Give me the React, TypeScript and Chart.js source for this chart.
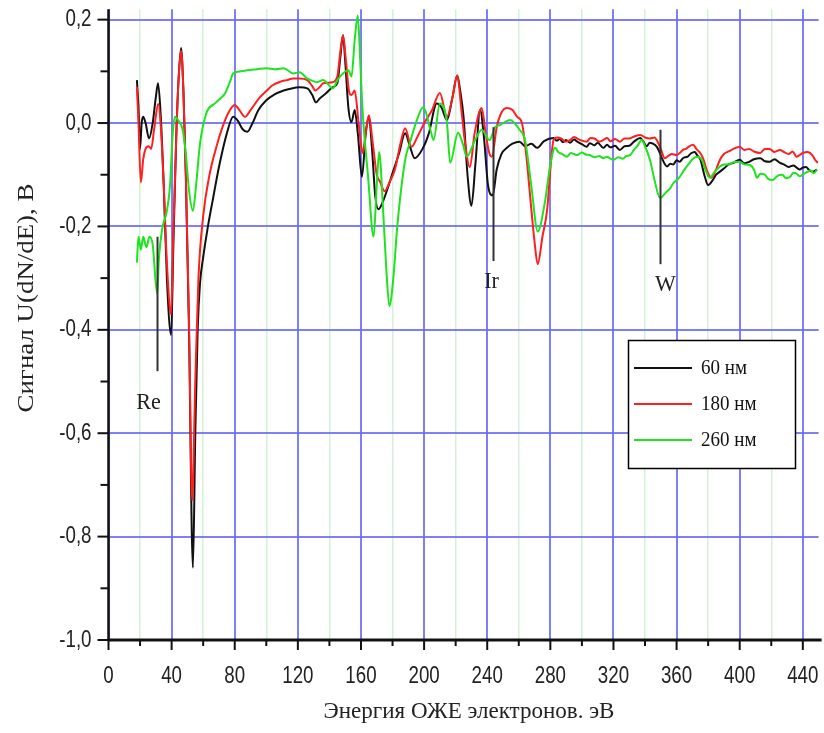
import React, { useEffect, useRef } from "react";
import { Chart, registerables } from "chart.js";

Chart.register(...registerables);

// ---- data (energy in eV, signal in V) ----
const energy60 = [18, 19, 20, 21, 22, 23.5, 25.7, 28, 30, 31.4, 33, 35, 37, 39.7, 41, 43, 44.5, 46, 47.5, 49, 51, 53.5, 55, 56.5, 58, 60, 63, 66, 70, 75, 79, 82, 85, 88, 91, 95, 100, 105, 111, 116, 121, 126, 129, 131.5, 134, 138, 142, 145, 147, 148.6, 150, 152, 154, 156, 158, 160.6, 163, 165, 167, 169, 171, 173.5, 176.5, 180, 184, 188, 191, 194, 199, 203, 208, 211, 214.5, 218, 221, 223, 225, 227.5, 230, 232.5, 235.5, 238, 240.5, 243.5, 246, 249, 252.5, 256, 260.5, 264, 268, 271.5, 276,
  282, 284, 286, 288, 290, 292.5, 295, 297, 300, 303, 305, 308, 310, 313.5, 316, 318, 321, 324, 327, 330, 333, 337, 339, 341, 343, 345, 347.5, 349, 351, 354, 356, 358, 360, 362, 364, 367, 369, 371.5, 373, 375, 378, 380, 383, 385, 387.5, 390, 393, 396, 400, 403, 406, 409, 413, 416, 419, 422, 425.5, 428, 431, 434, 438, 440, 442, 444, 446.5, 449];
const signal60 = [0.083, 0.03, -0.05, 0.0, 0.012, 0.0, -0.03, 0.0, 0.05, 0.077, 0.02, -0.12, -0.3, -0.41, -0.25, -0.02, 0.09, 0.145, 0.06, -0.1, -0.4, -0.86, -0.6, -0.4, -0.31, -0.26, -0.2, -0.15, -0.085, -0.02, 0.012, 0.004, -0.012, -0.017, -0.002, 0.025, 0.044, 0.055, 0.063, 0.067, 0.069, 0.067, 0.055, 0.04, 0.048, 0.058, 0.069, 0.077, 0.13, 0.17, 0.12, 0.03, 0.002, 0.025, -0.02, -0.104, -0.02, 0.012, -0.05, -0.14, -0.167, -0.155, -0.13, -0.097, -0.06, -0.02, -0.045, -0.068, -0.05, -0.02, 0.038, 0.03, 0.006, 0.05, 0.092, 0.06, 0.012, -0.1, -0.16, -0.08, 0.025, -0.03, -0.12, -0.14, -0.09, -0.06, -0.048, -0.04, -0.036, -0.045, -0.04, -0.048, -0.035,
  -0.029, -0.034, -0.031, -0.037, -0.033, -0.038, -0.032, -0.036, -0.041, -0.046, -0.039, -0.043, -0.038, -0.048, -0.042, -0.047, -0.044, -0.052, -0.045, -0.044, -0.036, -0.029, -0.036, -0.045, -0.038, -0.04, -0.046, -0.055, -0.07, -0.084, -0.079, -0.08, -0.072, -0.075, -0.068, -0.065, -0.059, -0.056, -0.062, -0.07, -0.105, -0.12, -0.11, -0.1, -0.094, -0.088, -0.08, -0.077, -0.071, -0.078, -0.075, -0.07, -0.068, -0.074, -0.075, -0.07, -0.077, -0.08, -0.085, -0.082, -0.09, -0.086, -0.085, -0.091, -0.094, -0.09];

const energy180 = [18, 19, 20.5, 22, 23.5, 25.5, 27, 29, 31.5, 33, 35, 37, 39.7, 41, 43, 44.5, 46, 47.5, 49, 51, 53, 55, 57, 60, 64, 68.5, 72, 76, 80, 83, 86.5, 90, 96, 100, 104, 109, 113, 117, 121, 126, 129, 131, 134, 136, 142, 145, 147, 148.6, 150.5, 152.5, 154, 156, 158.5, 161, 163, 165, 167.5, 170, 172, 175, 178, 181.5, 185, 188, 192, 196, 200.5, 205, 210, 214.5, 218, 221, 223.5, 226, 229, 232, 236.5, 239, 241.5, 243, 246, 249, 252.5, 256, 259, 262, 265, 267, 270, 272, 275, 278, 280,
  282, 284.5, 287, 289.5, 292.5, 295, 297, 300, 303, 305.5, 308, 311, 313.5, 316, 318, 321, 324, 327, 330, 333, 337, 340, 343, 346, 348, 350, 352.5, 355, 357, 360, 362, 364, 366, 368, 370.5, 372.5, 375, 377, 379, 382, 385, 387.5, 390, 393, 396, 400, 403, 406, 409, 413, 416, 419, 422, 425.5, 428, 431, 433.5, 436, 438, 440, 443, 446, 447.5, 449.5];
const signal180 = [0.07, 0.0, -0.115, -0.07, -0.05, -0.045, -0.05, -0.01, 0.037, 0.0, -0.12, -0.27, -0.37, -0.22, -0.02, 0.09, 0.14, 0.06, -0.1, -0.38, -0.73, -0.5, -0.3, -0.18, -0.1, -0.045, -0.01, 0.02, 0.035, 0.025, 0.012, 0.025, 0.05, 0.062, 0.073, 0.08, 0.083, 0.086, 0.086, 0.083, 0.072, 0.063, 0.07, 0.077, 0.079, 0.09, 0.14, 0.17, 0.12, 0.06, 0.054, 0.063, 0.0, -0.058, -0.02, 0.015, -0.04, -0.1, -0.113, -0.132, -0.115, -0.09, -0.04, -0.01, -0.046, -0.025, 0.002, 0.025, 0.058, 0.012, 0.05, 0.092, 0.03, -0.04, -0.085, -0.02, 0.029, -0.02, -0.06, -0.065, -0.008, 0.02, 0.029, 0.025, 0.012, 0.0, -0.07, -0.135, -0.23, -0.273, -0.22, -0.167, -0.09,
  -0.033, -0.028, -0.03, -0.036, -0.033, -0.027, -0.03, -0.034, -0.036, -0.029, -0.03, -0.036, -0.033, -0.029, -0.035, -0.031, -0.036, -0.03, -0.03, -0.026, -0.023, -0.028, -0.03, -0.028, -0.036, -0.05, -0.068, -0.063, -0.06, -0.062, -0.058, -0.052, -0.05, -0.045, -0.042, -0.05, -0.058, -0.07, -0.09, -0.106, -0.09, -0.071, -0.06, -0.055, -0.05, -0.046, -0.052, -0.05, -0.055, -0.058, -0.05, -0.05, -0.056, -0.052, -0.056, -0.06, -0.055, -0.065, -0.062, -0.058, -0.056, -0.062, -0.07, -0.077];

const energy260 = [18, 19, 20.5, 22, 24, 26, 28, 30.8, 32, 34, 37, 39, 40.5, 42, 44, 47, 49, 51, 53.5, 55.5, 58, 62, 67.5, 71, 74, 77, 79, 84, 88, 94, 100, 106, 111, 117, 121, 126, 129, 132, 136, 140, 142, 145.5, 148.6, 152, 154, 156, 158, 159.5, 161, 164.5, 168, 170, 171.5, 174, 176, 178, 180.5, 183, 188, 191, 195.5, 199.5, 204, 206, 210, 214.5, 216.5, 221.5, 224.5, 227, 232, 236.5, 241.5, 245, 248, 254.5, 260.5, 264, 268, 272, 276.5, 280,
  283, 285, 287.5, 290.5, 293, 295, 297, 300, 302.5, 305, 308, 311, 313.5, 316, 318, 320, 323, 326, 328, 330.5, 333, 335, 338, 340, 343, 346, 349.5, 351, 353, 356, 358, 361, 365, 368, 370, 373, 376, 378, 381, 384, 387.5, 390, 393, 396, 400, 403, 406.5, 409, 411, 413, 416, 418, 421, 424, 427, 429.5, 432, 434, 436, 438, 440, 442.5, 445, 447, 449];
const signal260 = [-0.27, -0.22, -0.245, -0.22, -0.24, -0.22, -0.235, -0.33, -0.26, -0.205, -0.17, -0.12, -0.03, 0.012, 0.006, -0.013, -0.06, -0.13, -0.17, -0.12, -0.04, 0.019, 0.038, 0.048, 0.058, 0.08, 0.096, 0.1, 0.102, 0.104, 0.106, 0.104, 0.106, 0.096, 0.098, 0.086, 0.082, 0.079, 0.083, 0.072, 0.067, 0.085, 0.096, 0.102, 0.09, 0.16, 0.208, 0.12, 0.025, -0.104, -0.22, -0.12, -0.056, -0.167, -0.28, -0.354, -0.3, -0.2, -0.071, -0.038, 0.006, 0.031, -0.013, -0.033, 0.038, 0.0, -0.077, -0.019, -0.04, -0.065, -0.035, -0.013, -0.033, -0.008, -0.004, 0.006, -0.013, -0.033, -0.123, -0.21, -0.154, -0.08,
  -0.048, -0.056, -0.06, -0.065, -0.058, -0.06, -0.062, -0.057, -0.061, -0.062, -0.066, -0.064, -0.068, -0.065, -0.069, -0.071, -0.066, -0.069, -0.064, -0.062, -0.052, -0.045, -0.033, -0.045, -0.07, -0.11, -0.145, -0.142, -0.135, -0.126, -0.116, -0.108, -0.09, -0.078, -0.07, -0.065, -0.071, -0.088, -0.106, -0.095, -0.084, -0.08, -0.08, -0.076, -0.075, -0.08, -0.081, -0.09, -0.106, -0.098, -0.1, -0.108, -0.11, -0.102, -0.1, -0.107, -0.104, -0.096, -0.098, -0.103, -0.1, -0.095, -0.092, -0.097, -0.09];

const seriesLabels = ["60 нм", "180 нм", "260 нм"];
const seriesColors = ["#111111", "#ff1f1f", "#1fe31f"];

// element markers: label, energy, line top, line bottom (V)
const markerLabels = ["Re", "Ir", "W"];
const markerEnergy = [30.5, 243.5, 349.5];
const markerTop = [-0.22, -0.008, -0.013];
const markerBottom = [-0.48, -0.267, -0.273];

const xTickValues = [0, 40, 80, 120, 160, 200, 240, 280, 320, 360, 400, 440];
const yTickValues = [0.2, 0.0, -0.2, -0.4, -0.6, -0.8, -1.0];

const xTitle = "Энергия ОЖЕ электронов. эВ";
const yTitle = "Сигнал U(dN/dE), В";

const SANS = "'Liberation Sans', Arial, sans-serif";
const SERIF = "'Liberation Serif', 'Times New Roman', serif";

const fmtY = (v: number) => {
  const s = v.toFixed(1).replace(".", ",");
  return s === "-0,0" ? "0,0" : s;
};

const toPoints = (xs: number[], ys: number[]) => xs.map((x, i) => ({ x, y: ys[i] }));

// text condensed/stretched horizontally like the scanned original
function scaledText(ctx: CanvasRenderingContext2D, text: string, x: number, y: number, sx: number) {
  ctx.save();
  ctx.translate(x, y);
  ctx.scale(sx, 1);
  ctx.fillText(text, 0, 0);
  ctx.restore();
}

const decorPlugin = {
  id: "decor",
  afterDatasetsDraw(chart: any) {
    const { ctx, scales } = chart;
    const xs = scales.x;
    const ys = scales.y;
    ctx.save();
    // markers
    ctx.strokeStyle = "#333";
    ctx.lineWidth = 2;
    ctx.fillStyle = "#222";
    ctx.font = `24px ${SERIF}`;
    ctx.textAlign = "center";
    ctx.textBaseline = "middle";
    markerLabels.forEach((lab, i) => {
      const px = Math.round(xs.getPixelForValue(markerEnergy[i])) + 0.5;
      const y1 = ys.getPixelForValue(markerTop[i]);
      const y2 = ys.getPixelForValue(markerBottom[i]);
      ctx.beginPath();
      ctx.moveTo(px, y1);
      ctx.lineTo(px, y2);
      ctx.stroke();
      const lx = i === 0 ? px - 9 : i === 2 ? px + 5 : px - 2;
      scaledText(ctx, lab, lx, y2 + (i === 0 ? 32 : 21), 0.92);
    });

    // legend
    const bx = 628, by = 340, bw = 167, bh = 128;
    ctx.fillStyle = "#fff";
    ctx.fillRect(bx, by, bw, bh);
    ctx.strokeStyle = "#000";
    ctx.lineWidth = 1.5;
    ctx.strokeRect(bx + 0.5, by + 0.5, bw, bh);
    ctx.font = `20px ${SERIF}`;
    ctx.textAlign = "left";
    seriesLabels.forEach((lab, i) => {
      const y = by + 28 + i * 36;
      ctx.strokeStyle = seriesColors[i];
      ctx.lineWidth = 2;
      ctx.beginPath();
      ctx.moveTo(bx + 6, y);
      ctx.lineTo(bx + 64, y);
      ctx.stroke();
      ctx.fillStyle = "#111";
      scaledText(ctx, lab, bx + 73, y + 1, 0.95);
    });
    ctx.restore();
  },
  afterDraw(chart: any) {
    const { ctx, scales, chartArea } = chart;
    const xs = scales.x;
    const ys = scales.y;
    ctx.save();
    ctx.strokeStyle = "#111";
    // y axis line
    ctx.lineWidth = 2.5;
    ctx.beginPath();
    ctx.moveTo(chartArea.left, chartArea.top);
    ctx.lineTo(chartArea.left, chartArea.bottom + 1);
    ctx.stroke();
    // x axis line
    ctx.lineWidth = 3;
    ctx.beginPath();
    ctx.moveTo(chartArea.left - 1, chartArea.bottom);
    ctx.lineTo(chartArea.right + 3, chartArea.bottom);
    ctx.stroke();
    // y ticks
    ctx.lineWidth = 2;
    for (let k = -10; k <= 2; k++) {
      const py = ys.getPixelForValue(k / 10);
      const len = k % 2 === 0 ? 11 : 8;
      ctx.beginPath();
      ctx.moveTo(chartArea.left - len, py);
      ctx.lineTo(chartArea.left, py);
      ctx.stroke();
    }
    // x ticks
    for (let v = 0; v <= 440; v += 20) {
      const px = xs.getPixelForValue(v);
      const len = v % 40 === 0 ? 10 : 6;
      ctx.beginPath();
      ctx.moveTo(px, chartArea.bottom);
      ctx.lineTo(px, chartArea.bottom + len);
      ctx.stroke();
    }
    // tick labels
    ctx.fillStyle = "#222";
    ctx.font = `24px ${SANS}`;
    ctx.textBaseline = "middle";
    ctx.textAlign = "center";
    xTickValues.forEach((v) => {
      scaledText(ctx, String(v), xs.getPixelForValue(v), chartArea.bottom + 36, 0.78);
    });
    ctx.textAlign = "right";
    yTickValues.forEach((v) => {
      scaledText(ctx, fmtY(v), chartArea.left - 17, ys.getPixelForValue(v), 0.78);
    });
    // titles
    ctx.fillStyle = "#222";
    ctx.font = `24px ${SERIF}`;
    ctx.textAlign = "center";
    scaledText(ctx, xTitle, 469, 712, 0.96);
    ctx.translate(27, 298);
    ctx.rotate(-Math.PI / 2);
    scaledText(ctx, yTitle, 0, 0, 1.12);
    ctx.restore();
  },
};

export default function App() {
  const ref = useRef<HTMLCanvasElement | null>(null);
  useEffect(() => {
    if (!ref.current) return;
    const datasets = [
      { label: seriesLabels[2], data: toPoints(energy260, signal260), borderColor: seriesColors[2], order: 1 },
      { label: seriesLabels[1], data: toPoints(energy180, signal180), borderColor: seriesColors[1], order: 2 },
      { label: seriesLabels[0], data: toPoints(energy60, signal60), borderColor: seriesColors[0], order: 3 },
    ].map((d) => ({ ...d, borderWidth: 2, pointRadius: 0, cubicInterpolationMode: "monotone" as const, fill: false }));

    const chart = new Chart(ref.current, {
      type: "line",
      data: { datasets },
      options: {
        responsive: false,
        animation: false,
        events: [],
        layout: { padding: { top: 9.3, right: 5.4, left: 0, bottom: 0 } },
        plugins: { legend: { display: false }, tooltip: { enabled: false } },
        scales: {
          x: {
            type: "linear",
            min: 0,
            max: 450,
            afterFit: (s: any) => { s.height = 93; },
            border: { display: false },
            grid: {
              drawTicks: false,
              color: (c: any) => (Math.round(c.tick.value) % 40 === 0 ? "rgba(105,105,250,0.85)" : "rgba(200,238,200,0.8)"),
              lineWidth: (c: any) => (Math.round(c.tick.value) % 40 === 0 ? 2 : 1.5),
            },
            ticks: { display: false, stepSize: 20, includeBounds: false, autoSkip: false, maxRotation: 0 },
          },
          y: {
            type: "linear",
            min: -1,
            max: 0.22,
            afterFit: (s: any) => { s.width = 108.5; },
            border: { display: false },
            grid: {
              drawTicks: false,
              color: (c: any) => (Math.round(c.tick.value * 10) % 2 === 0 ? "rgba(105,105,250,0.85)" : "rgba(0,0,0,0)"),
              lineWidth: 2,
            },
            ticks: { display: false, stepSize: 0.1, includeBounds: false },
          },
        },
      },
      plugins: [decorPlugin],
    });
    return () => chart.destroy();
  }, []);

  return (
    <div style={{ position: "fixed", left: 0, top: 0, width: 824, height: 733, background: "#fff" }}>
      <canvas ref={ref} width={824} height={733} style={{ display: "block" }} />
    </div>
  );
}
